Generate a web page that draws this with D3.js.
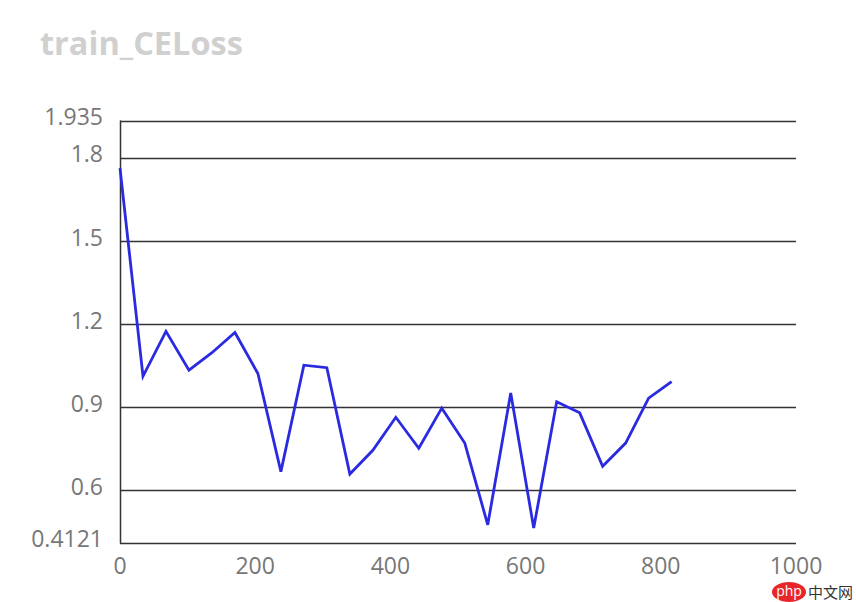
<!DOCTYPE html>
<html><head><meta charset="utf-8">
<script src="https://cdn.jsdelivr.net/npm/d3@7"></script>
<style>body{margin:0;background:#fff}</style>
</head><body>
<svg id="c" width="856" height="602"></svg>
<script>
const title = "train_CELoss";
const steps = [0,34,68,102,136,170,204,238,272,306,340,374,408,442,476,510,544,578,612,646,680,714,748,782,816];
const loss = [1.763,1.012,1.174,1.034,1.097,1.170,1.022,0.668,1.052,1.043,0.659,0.745,0.864,0.752,0.897,0.771,0.476,0.952,0.464,0.920,0.880,0.687,0.771,0.933,0.993];
const yTicks = [0.4121,0.6,0.9,1.2,1.5,1.8,1.935];
const yTickLabels = ["0.4121","0.6","0.9","1.2","1.5","1.8","1.935"];
const xTicks = [0,200,400,600,800,1000];

const svg = d3.select("#c");
const font = "'Open Sans', 'Noto Sans', sans-serif";
const x = d3.scaleLinear().domain([0,1000]).range([120,796]);
const y = d3.scaleLinear().domain([0.4121,1.935]).range([542.5,120.5]);

svg.append("text").attr("x",40).attr("y",55).text(title)
  .attr("font-family",font).attr("font-weight","bold").attr("font-size",32.5).attr("fill","#d0d0d0");

// grid
svg.append("g").selectAll("line").data(yTicks).join("line")
  .attr("x1",x(0)).attr("x2",x(1000)).attr("y1",d=>Math.round(y(d))+0.5).attr("y2",d=>Math.round(y(d))+0.5)
  .attr("stroke","#333").attr("stroke-width",1.5);
svg.append("line").attr("x1",x(0)+0.5).attr("x2",x(0)+0.5).attr("y1",y(1.935)).attr("y2",y(0.4121)+1)
  .attr("stroke","#333").attr("stroke-width",1.5);

svg.append("g").selectAll("text").data(yTicks).join("text")
  .attr("x",103).attr("y",d=>y(d)-3.5).attr("dy","0.35em").attr("text-anchor","end")
  .text((d,i)=>yTickLabels[i]).attr("font-family",font).attr("font-size",23).attr("fill","#777");
svg.append("g").selectAll("text").data(xTicks).join("text")
  .attr("x",d=>x(d)).attr("y",566).attr("dy","0.35em").attr("text-anchor","middle")
  .text(d=>d).attr("font-family",font).attr("font-size",23).attr("fill","#777");

const line = d3.line().x((d,i)=>x(steps[i])).y(d=>y(d));
svg.append("path").datum(loss).attr("d",line).attr("fill","none")
  .attr("stroke","#2a2ae0").attr("stroke-width",2.8).attr("stroke-linejoin","miter");

// watermark
const wm = svg.append("g");
wm.append("ellipse").attr("cx",789).attr("cy",592).attr("rx",17).attr("ry",10).attr("fill","#e8262a");
wm.append("text").attr("x",789).attr("y",596).attr("text-anchor","middle").text("php")
  .attr("font-family",font).attr("font-size",14).attr("fill","#fff");
wm.append("text").attr("x",808).attr("y",598).text("中文网")
  .attr("font-family","'Noto Sans CJK SC', sans-serif").attr("font-size",15).attr("fill","#333");
</script>
</body></html>
